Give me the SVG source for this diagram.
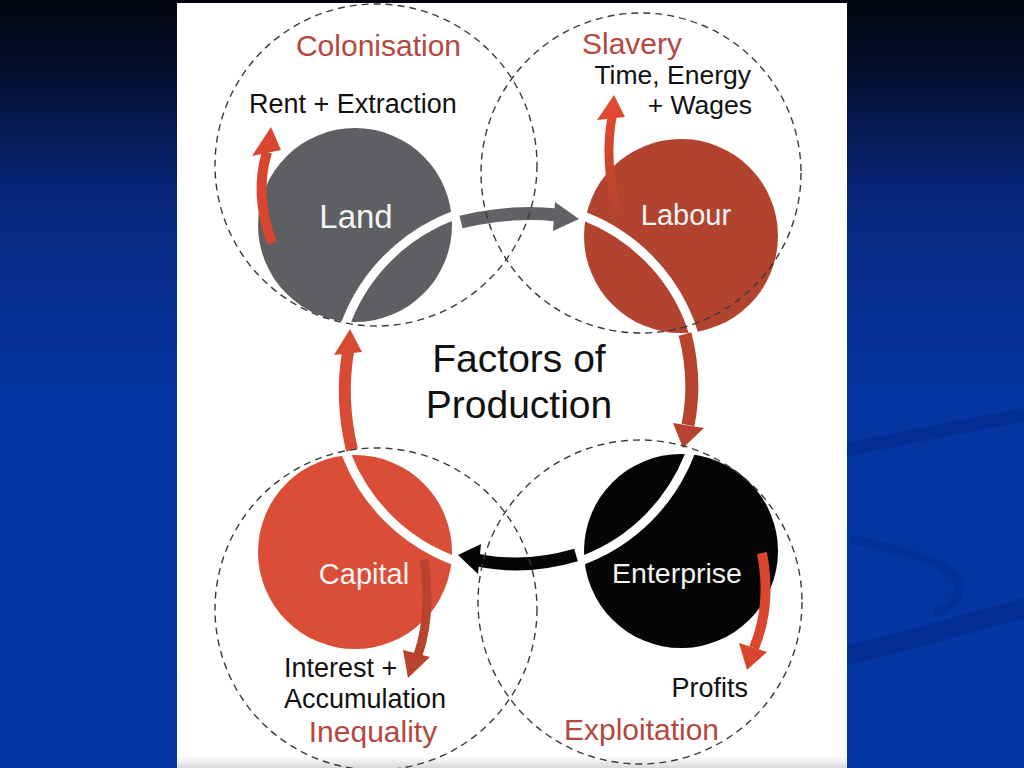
<svg xmlns="http://www.w3.org/2000/svg" width="1024" height="768" viewBox="0 0 1024 768">
<defs>
<linearGradient id="bg" x1="0" y1="0" x2="0" y2="1">
<stop offset="0" stop-color="#03060f"/>
<stop offset="0.08" stop-color="#040d28"/>
<stop offset="0.25" stop-color="#08267a"/>
<stop offset="0.5" stop-color="#0535a0"/>
<stop offset="1" stop-color="#0437a6"/>
</linearGradient>
<linearGradient id="panelg" x1="0" y1="0" x2="0" y2="1">
<stop offset="0" stop-color="#ffffff"/>
<stop offset="0.985" stop-color="#ffffff"/>
<stop offset="1" stop-color="#d8d8d8"/>
</linearGradient>
<linearGradient id="labArrow" x1="0" y1="0" x2="0" y2="1">
<stop offset="0" stop-color="#e0482f"/>
<stop offset="1" stop-color="#b8432f"/>
</linearGradient>
<style>
.dash{fill:none;stroke:#3a3a3a;stroke-width:1.4;stroke-dasharray:7 5}
.t{font-family:"Liberation Sans",Arial,sans-serif}
.red{fill:#b5473f}
.blk{fill:#111}
.wht{fill:#f4f4f4}
.shaft{fill:none;stroke-linecap:butt}
</style>
</defs>
<rect width="1024" height="768" fill="url(#bg)"/>
<g fill="none" stroke="#022c8e" stroke-linecap="round" opacity="0.7">
<path d="M847 450 Q930 432 1024 415" stroke-width="13"/>
<path d="M853 540 Q955 560 960 585 Q958 605 938 612" stroke-width="9" opacity="0.7"/>
<path d="M847 655 Q940 632 1024 608" stroke-width="20"/>
</g>
<rect x="177" y="3" width="670" height="765" fill="url(#panelg)"/>

<g id="land"><circle cx="355" cy="225" r="97" fill="#5d5f62"/></g>
<g id="labour"><circle cx="681" cy="236" r="97" fill="#b2432f"/></g>
<g id="capital"><circle cx="355" cy="552" r="97" fill="#da4e37"/></g>
<g id="enterprise"><circle cx="681" cy="551" r="97" fill="#050505"/></g>

<g id="ring"><circle cx="518" cy="388" r="184" fill="none" stroke="#ffffff" stroke-width="9"/></g>

<g id="connectors">
<path class="shaft" d="M461 222 Q512 210 557 215" stroke="#606265" stroke-width="13"/>
<polygon points="555,202 579,219 553,231" fill="#606265"/>
<path class="shaft" d="M685 334 Q697 380 688 425" stroke="#b5432f" stroke-width="13"/>
<polygon points="673,423 704,428 683,448" fill="#b5432f"/>
<path class="shaft" d="M576 555 Q525 570 477 560" stroke="#050505" stroke-width="13"/>
<polygon points="481,544 478,574 458,555" fill="#050505"/>
<path class="shaft" d="M352 450 Q340 400 348 352" stroke="#d84b33" stroke-width="12"/>
<polygon points="334,355 362,352 350,329" fill="#d84b33"/>
<path class="shaft" d="M272 243 Q254 195 267 152" stroke="#d9452e" stroke-width="10"/>
<polygon points="252,156 281,150 271,127" fill="#d9452e"/>
<path class="shaft" d="M617 212 Q604 160 612 117" stroke="url(#labArrow)" stroke-width="9"/>
<polygon points="597,120 625,117 614,95" fill="#e0482f"/>
<path class="shaft" d="M424 560 Q432 615 418 655" stroke="#b8432f" stroke-width="9"/>
<polygon points="403,650 430,657 408,678" fill="#b8432f"/>
<path class="shaft" d="M762 553 Q772 605 754 648" stroke="#d9452e" stroke-width="10"/>
<polygon points="739,643 767,652 747,670" fill="#d9452e"/>
</g>

<g id="zones">
<circle class="dash" cx="376" cy="165" r="161"/>
<circle class="dash" cx="641" cy="173" r="160"/>
<circle class="dash" cx="376" cy="609" r="161"/>
<circle class="dash" cx="640" cy="602" r="162"/>
</g>

<g id="labels" class="t">
<text class="red" x="378.5" y="56" font-size="30" text-anchor="middle">Colonisation</text>
<text class="blk" x="249" y="113" font-size="27">Rent + Extraction</text>
<text class="red" x="582" y="54" font-size="30">Slavery</text>
<text class="blk" x="751" y="84" font-size="26.5" text-anchor="end">Time, Energy</text>
<text class="blk" x="752" y="114" font-size="26.5" text-anchor="end">+ Wages</text>
<text class="wht" x="356" y="228" font-size="33" text-anchor="middle">Land</text>
<text class="wht" x="686" y="225" font-size="29" text-anchor="middle">Labour</text>
<text class="blk" x="519" y="372" font-size="39" text-anchor="middle">Factors of</text>
<text class="blk" x="519" y="418" font-size="39" text-anchor="middle">Production</text>
<text class="wht" x="364" y="584" font-size="29" text-anchor="middle">Capital</text>
<text class="wht" x="677" y="583" font-size="28.5" text-anchor="middle">Enterprise</text>
<text class="blk" x="284" y="677" font-size="27">Interest +</text>
<text class="blk" x="284" y="708" font-size="27">Accumulation</text>
<text class="red" x="373" y="742" font-size="30" text-anchor="middle">Inequality</text>
<text class="blk" x="748" y="697" font-size="27" text-anchor="end">Profits</text>
<text class="red" x="641.5" y="740" font-size="30" text-anchor="middle">Exploitation</text>
</g>
</svg>
